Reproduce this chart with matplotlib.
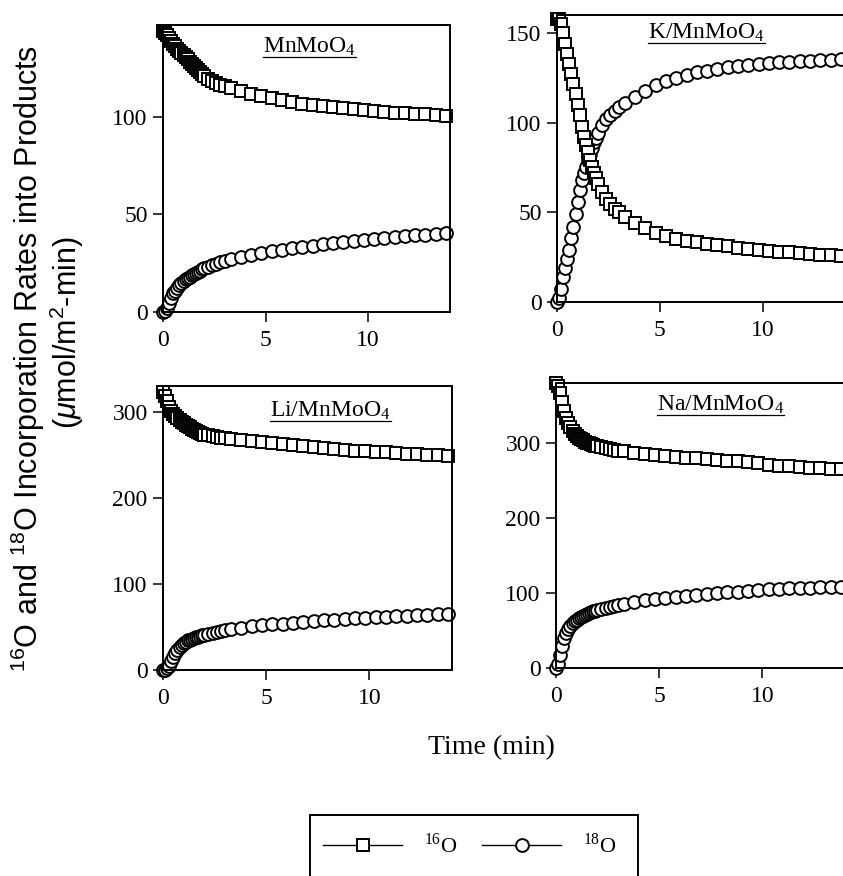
import matplotlib
matplotlib.use("Agg")
import matplotlib.pyplot as plt
from matplotlib.lines import Line2D
from matplotlib.patches import Rectangle

plt.rcParams['font.family'] = ['Liberation Serif', 'DejaVu Serif']
plt.rcParams['mathtext.fontset'] = 'custom'
plt.rcParams['mathtext.rm'] = 'Liberation Serif'
plt.rcParams['mathtext.sf'] = 'Liberation Sans'
plt.rcParams['mathtext.it'] = 'Liberation Sans:italic'

# sampling times (min), shared by every run
time_min = [0.0, 0.1, 0.2, 0.3, 0.4, 0.5, 0.6, 0.7, 0.8, 0.9, 1.0,
            1.1, 1.2, 1.3, 1.4, 1.5, 1.6, 1.7, 1.8, 1.9, 2.0,
            2.2, 2.4, 2.6, 2.8, 3.0,
            3.3, 3.8, 4.3, 4.8, 5.3, 5.8, 6.3, 6.8, 7.3, 7.8, 8.3, 8.8,
            9.3, 9.8, 10.3, 10.8, 11.3, 11.8, 12.3, 12.8, 13.3, 13.8]

# incorporation rates, umol/m2-min
mn_16o = [144, 143, 142, 140.5, 139, 137.5, 136, 134.5, 133.5, 132.5, 131.5,
          130.5, 129.5, 128, 127, 126, 125, 124, 123, 122, 121,
          119.5, 118.5, 117.5, 116.5, 115.5,
          114.5, 113, 111.5, 110.5, 109.5, 108.5, 107.5, 106.5, 106, 105.5, 105, 104.5,
          104, 103.5, 103, 102.5, 102, 101.8, 101.5, 101.2, 100.8, 100.5]
mn_18o = [0, 0.5, 2, 4.5, 7, 9.5, 11, 12.5, 14, 15, 16,
          16.8, 17.5, 18, 18.8, 19.4, 20, 20.6, 21.2, 21.8, 22.3,
          23.2, 24, 24.8, 25.5, 26.2,
          27, 28.3, 29.3, 30.2, 31, 31.8, 32.6, 33.3, 34, 34.6, 35.3, 35.9,
          36.5, 37, 37.5, 38, 38.4, 38.8, 39.2, 39.6, 40, 40.3]

k_16o = [158, 158, 155, 150, 144, 138, 132.5, 127, 121.5, 116, 110,
         104, 97.5, 92, 87.5, 83.5, 79, 75, 72, 69, 66,
         61.5, 57.5, 54.5, 52, 50,
         47.5, 44, 41, 38.5, 36.8, 35.3, 34.2, 33.3, 32.5, 31.7, 31, 30.3,
         29.6, 29, 28.5, 28, 27.6, 27.2, 26.8, 26.4, 26, 25.6]
k_18o = [0, 2, 7, 14, 19, 24, 29, 35.5, 42, 49, 55.5,
         62.5, 68, 72, 75.5, 79, 82.5, 86, 89, 91.5, 94,
         98.5, 102, 104.5, 106.5, 108.5,
         111, 114.5, 117.5, 121, 123, 125, 126.5, 128, 129, 130, 131, 131.8,
         132.3, 132.8, 133.2, 133.6, 133.9, 134.2, 134.5, 134.7, 135, 135.2]

li_16o = [323, 318, 312, 306, 301, 297.5, 295, 292.5, 290.5, 288.5, 286.5,
          285, 283.5, 282, 280.5, 279, 277.5, 276.5, 275.5, 274.5, 273.5,
          272.5, 271.5, 270.5, 270, 269.2,
          268.5, 267.3, 266, 265, 263.8, 262.8, 261.5, 260.3, 259.2, 258, 257, 256,
          255, 254.2, 253.5, 252.8, 252, 251.3, 250.7, 250, 249.4, 248.8]
li_18o = [0, 0.5, 2, 5, 10, 15, 19.5, 23.5, 27, 29.5, 31.5,
          33, 34.3, 35.4, 36.4, 37.3, 38.1, 38.9, 39.6, 40.3, 41,
          42.3, 43.5, 44.6, 45.6, 46.5,
          47.6, 49.2, 50.6, 51.8, 53, 54, 55, 56, 57, 57.8, 58.6, 59.4,
          60.1, 60.8, 61.4, 62, 62.6, 63.2, 63.7, 64.2, 64.7, 65.2]

na_16o = [380, 376, 366, 354, 343, 334, 326.5, 321, 316.5, 312.5, 309.5,
          307, 305, 303.5, 302, 300.5, 299.5, 298.5, 297.5, 296.5, 296,
          294.5, 293, 292, 291, 290,
          289, 287.2, 285.6, 284.2, 283, 281.8, 280.6, 279.6, 278.6, 277.6, 276.6, 275.5,
          274.5, 273.2, 271, 269.8, 268.8, 268, 267.2, 266.5, 265.8, 265.2]
na_18o = [0, 6, 18, 30, 40, 47, 52, 56, 59.5, 62.5, 64.5,
          66.3, 68, 69.5, 71, 72.3, 73.5, 74.6, 75.6, 76.6, 77.5,
          79, 80.5, 81.8, 83, 84.2,
          86, 88.3, 90.3, 92, 93.6, 95, 96.4, 97.7, 98.9, 100, 101, 102,
          103, 104, 104.8, 105.5, 106.2, 106.8, 107.3, 107.8, 108.2, 108.6]

catalysts = ['MnMoO$_4$', 'K/MnMoO$_4$', 'Li/MnMoO$_4$', 'Na/MnMoO$_4$']
series_16o = [mn_16o, k_16o, li_16o, na_16o]
series_18o = [mn_18o, k_18o, li_18o, na_18o]
y_tops = [147, 160, 330, 380]
y_ticks = [[0, 50, 100], [0, 50, 100, 150], [0, 100, 200, 300], [0, 100, 200, 300]]
x_ticks = [0, 5, 10]

W, H = 843, 876
fig = plt.figure(figsize=(W / 100, H / 100), dpi=100)

# panel boxes in pixels: left, top, right, bottom
boxes = [(163, 25, 450, 312), (557, 15, 845, 302),
         (163, 386, 452, 670), (556, 383, 845, 668)]
title_pos = [(0.51, 0.907), (0.52, 0.921), (0.58, 0.895), (0.57, 0.905)]

sty = dict(color='black', lw=1.0, mfc='white', mec='black', ms=9.2, mew=1.4,
           clip_on=False)

titles = []
for i, (l, t, r, b) in enumerate(boxes):
    ax = fig.add_axes([l / W, 1 - b / H, (r - l) / W, (b - t) / H])
    ax.plot(time_min, series_18o[i], marker='o', **sty)
    ax.plot(time_min, series_16o[i], marker='s', **sty)
    ax.set_xlim(0, 14)
    ax.set_ylim(0, y_tops[i])
    ax.set_xticks(x_ticks)
    ax.set_yticks(y_ticks[i])
    ax.tick_params(direction='out', length=7, width=1.1, labelsize=17, pad=4)
    ax.tick_params(axis='x', pad=6)
    for s in ax.spines.values():
        s.set_linewidth(1.4)
    tx = ax.text(*title_pos[i], catalysts[i], transform=ax.transAxes,
                 ha='center', va='baseline', fontsize=17)
    titles.append((ax, tx))

fig.text(28 / W, 1 - 358 / H,
         r'$^{\mathsf{16}}$O and $^{\mathsf{18}}$O Incorporation Rates into Products',
         rotation=90, ha='center', va='center', fontsize=22,
         family=['Liberation Sans', 'DejaVu Sans'])
fig.text(67 / W, 1 - 333 / H, r'($\mu$mol/m$^{\mathsf{2}}$-min)',
         rotation=90, ha='center', va='center', fontsize=22,
         family=['Liberation Sans', 'DejaVu Sans'])

fig.text(491 / W, 1 - 748 / H, 'Time (min)', ha='center', va='center', fontsize=20)

handles = [Line2D([], [], marker='s', **sty), Line2D([], [], marker='o', **sty)]
fig.legend(handles, ['$^{16}$O', '$^{18}$O'], ncol=2, frameon=False,
           loc='center', bbox_to_anchor=(470 / W, 1 - 845 / H),
           fontsize=16, handlelength=3.55, handletextpad=1.0, columnspacing=1.1)
fig.add_artist(Rectangle((310 / W, -0.05), 328 / W, 0.05 + 1 - 815 / H,
                         transform=fig.transFigure, fill=False, lw=1.4,
                         edgecolor='black', clip_on=False))

# underline the catalyst names
fig.canvas.draw()
rend = fig.canvas.get_renderer()
for ax, tx in titles:
    bb = tx.get_window_extent(rend)
    inv = fig.transFigure.inverted()
    (x0, y0), (x1, _) = inv.transform([(bb.x0, bb.y0 + 1), (bb.x1, bb.y0 + 1)])
    fig.add_artist(Line2D([x0, x1], [y0, y0], transform=fig.transFigure,
                          color='black', lw=0.9))

fig.savefig('out.png', dpi=100)
